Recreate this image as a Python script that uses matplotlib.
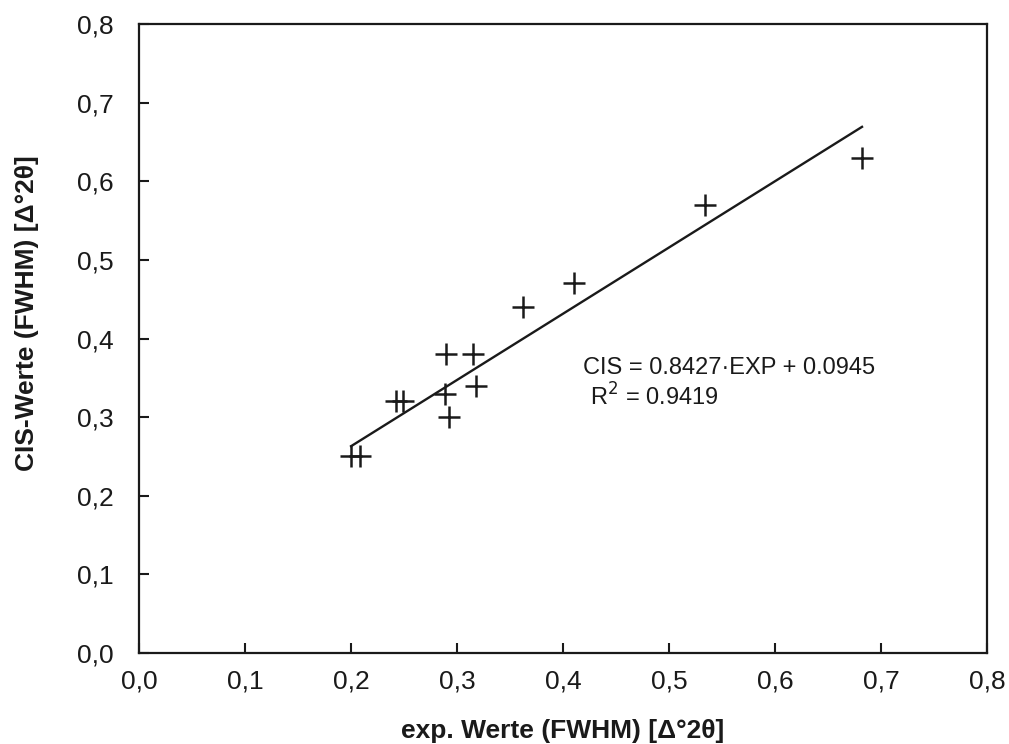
import matplotlib.pyplot as plt
from matplotlib.ticker import FuncFormatter

plt.rcParams['font.family'] = ['Liberation Sans', 'DejaVu Sans']

# measured line widths (FWHM) in delta 2-theta: experiment vs. CIS
exp_vals = [0.200, 0.208, 0.242, 0.249, 0.290, 0.315, 0.289, 0.318, 0.292,
            0.362, 0.410, 0.534, 0.682]
cis_vals = [0.25, 0.25, 0.32, 0.32, 0.38, 0.38, 0.33, 0.34, 0.30,
            0.44, 0.47, 0.57, 0.63]

slope = 0.8427
intercept = 0.0945
r2 = 0.9419

ticks = [0.0, 0.1, 0.2, 0.3, 0.4, 0.5, 0.6, 0.7, 0.8]

fig = plt.figure(figsize=(10.09, 7.44), dpi=100)
ax = fig.add_axes([0.1378, 0.1223, 0.8405, 0.8454])

ax.plot(exp_vals, cis_vals, linestyle='none', marker='+', markersize=16,
        markeredgewidth=1.8, color='#1a1a1a')

x0, x1 = min(exp_vals), max(exp_vals)
ax.plot([x0, x1], [slope * x0 + intercept, slope * x1 + intercept],
        color='#1a1a1a', lw=1.7)

ax.text(0.419, 0.363, f'CIS = {slope}\u00b7EXP + {intercept}', fontsize=17,
        va='center', ha='left', color='#1a1a1a')
ax.text(0.425, 0.326, f'R$^2$ = {r2}', fontsize=17,
        va='center', ha='left', color='#1a1a1a')

ax.set_xlim(0, 0.8)
ax.set_ylim(0, 0.8)
ax.set_xticks(ticks)
ax.set_yticks(ticks)
comma = FuncFormatter(lambda v, p: f'{v:.1f}'.replace('.', ','))
ax.xaxis.set_major_formatter(comma)
ax.yaxis.set_major_formatter(comma)
ax.tick_params(direction='in', length=7, width=1.5, labelsize=19,
               colors='#1a1a1a')
ax.tick_params(axis='x', pad=12)
ax.tick_params(axis='y', pad=18)
for s in ax.spines.values():
    s.set_linewidth(1.6)
    s.set_color('#1a1a1a')

ax.set_xlabel('exp. Werte (FWHM) [\u0394\u00b02\u03b8]', fontsize=19,
              fontweight='bold', labelpad=18, color='#1a1a1a')
ax.set_ylabel('CIS-Werte (FWHM) [\u0394\u00b02\u03b8]', fontsize=19,
              fontweight='bold', color='#1a1a1a')
ax.yaxis.set_label_coords(-0.118, 0.54)

fig.savefig('out.png', dpi=100)
